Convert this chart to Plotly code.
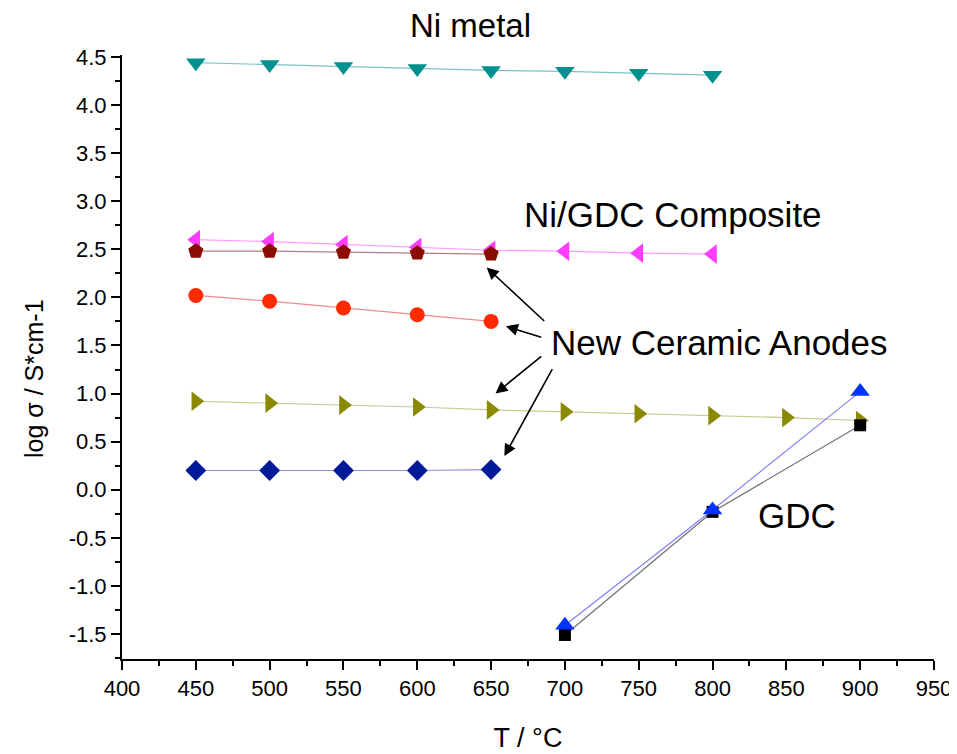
import plotly.graph_objects as go

# ---- data ----
T_ni_metal = [450, 500, 550, 600, 650, 700, 750, 800]
ni_metal = [4.44, 4.42, 4.40, 4.38, 4.36, 4.35, 4.33, 4.31]

T_ni_gdc = [450, 500, 550, 600, 650, 700, 750, 800]
ni_gdc = [2.60, 2.58, 2.55, 2.52, 2.49, 2.48, 2.46, 2.45]

T_anode_a = [450, 500, 550, 600, 650]
anode_a = [2.48, 2.48, 2.47, 2.46, 2.45]

T_anode_b = [450, 500, 550, 600, 650]
anode_b = [2.02, 1.96, 1.89, 1.82, 1.75]

T_anode_c = [450, 500, 550, 600, 650, 700, 750, 800, 850, 900]
anode_c = [0.92, 0.90, 0.88, 0.86, 0.83, 0.81, 0.79, 0.77, 0.75, 0.72]

T_anode_d = [450, 500, 550, 600, 650]
anode_d = [0.20, 0.20, 0.20, 0.20, 0.21]

T_gdc = [700, 800, 900]
gdc_tri = [-1.41, -0.21, 1.02]
gdc_sq = [-1.51, -0.23, 0.67]

x_ticks = [400, 450, 500, 550, 600, 650, 700, 750, 800, 850, 900, 950]
y_ticks = [-1.5, -1.0, -0.5, 0.0, 0.5, 1.0, 1.5, 2.0, 2.5, 3.0, 3.5, 4.0, 4.5]

FONT = "Liberation Sans, Arial, sans-serif"

# plot area in page pixels (page has an 8px body margin)
PL, PR, PT, PB = 122, 934, 55, 659
PW, PH = PR - PL, PB - PT

fig = go.Figure()

def add(x, y, sym, mcol, lcol, size):
    fig.add_trace(go.Scatter(
        x=x, y=y, mode="lines+markers",
        line=dict(color=lcol, width=1.2),
        marker=dict(symbol=sym, color=mcol, size=size, line=dict(width=0)),
        showlegend=False, cliponaxis=False))

add(T_ni_metal, ni_metal, "triangle-down", "#009090", "#7cc4c4", 17)
add(T_ni_gdc, ni_gdc, "triangle-left", "#ff3cff", "#ff99ff", 17)
add(T_anode_a, anode_a, "pentagon", "#8b0c00", "#b08080", 16)
add(T_anode_b, anode_b, "circle", "#ff2a00", "#f08a8a", 15)
add(T_anode_c, anode_c, "triangle-right", "#8a8a00", "#c8c890", 17)
add(T_anode_d, anode_d, "diamond", "#001a99", "#9090e0", 16)
add(T_gdc, gdc_sq, "square", "#000000", "#707070", 12)
add(T_gdc, gdc_tri, "triangle-up", "#0033ff", "#8080ff", 17)

txt = dict(family=FONT, size=35, color="#000000")
fig.add_annotation(x=(470 - PL) / PW, y=(PB - 25) / PH, text="Ni metal",
                   showarrow=False, font=dict(family=FONT, size=33, color="#000000"),
                   xref="paper", yref="paper",
                   xanchor="center", yanchor="middle")
fig.add_annotation(x=773, y=2.86, text="Ni/GDC Composite", showarrow=False, font=txt)
fig.add_annotation(x=805, y=1.53, text="New Ceramic Anodes", showarrow=False, font=txt)
fig.add_annotation(x=857, y=-0.27, text="GDC", showarrow=False, font=txt)

# y-axis title as annotation
fig.add_annotation(x=(34 - PL) / PW, y=(PB - 379) / PH, xref="paper", yref="paper",
                   text="log σ / S*cm-1", textangle=-90, showarrow=False,
                   xanchor="center", yanchor="middle",
                   font=dict(family=FONT, size=25, color="#000000"))

arrows = [
    ((687, 1.74), (647, 2.31)),
    ((685, 1.58), (660, 1.70)),
    ((685, 1.40), (653, 1.00)),
    ((692, 1.27), (659, 0.35)),
]
for (tx, ty), (hx, hy) in arrows:
    fig.add_annotation(x=hx, y=hy, ax=tx, ay=ty, xref="x", yref="y",
                       axref="x", ayref="y", text="", showarrow=True,
                       arrowhead=2, arrowsize=1.5, arrowwidth=1.6,
                       arrowcolor="#000000")

fig.update_xaxes(
    range=[400, 950], tickvals=x_ticks, ticktext=[str(v) for v in x_ticks],
    showline=True, linecolor="#000000", linewidth=2, mirror=False,
    ticks="outside", ticklen=9, tickwidth=2, tickcolor="#000000",
    minor=dict(dtick=25, tick0=400, ticks="outside", ticklen=5, tickwidth=2, tickcolor="#000000"),
    showgrid=False, zeroline=False, automargin=False,
    tickfont=dict(family=FONT, size=22, color="#000000"),
    title=dict(text="T / °C", font=dict(family=FONT, size=27, color="#000000"), standoff=28),
)
fig.update_yaxes(
    range=[-1.76, 4.52], tickvals=y_ticks, ticktext=[f"{v:.1f}" for v in y_ticks],
    showline=True, linecolor="#000000", linewidth=2, mirror=False,
    ticks="outside", ticklen=9, tickwidth=2, tickcolor="#000000",
    minor=dict(dtick=0.25, tick0=0, ticks="outside", ticklen=5, tickwidth=2, tickcolor="#000000"),
    showgrid=False, zeroline=False, automargin=False,
    tickfont=dict(family=FONT, size=22, color="#000000"),
)

fig.update_layout(
    width=949, height=746,
    margin=dict(l=PL - 8, r=23, t=PT - 8, b=95, autoexpand=False),
    paper_bgcolor="#ffffff", plot_bgcolor="#ffffff",
    showlegend=False,
)

fig.write_html("out.html")
